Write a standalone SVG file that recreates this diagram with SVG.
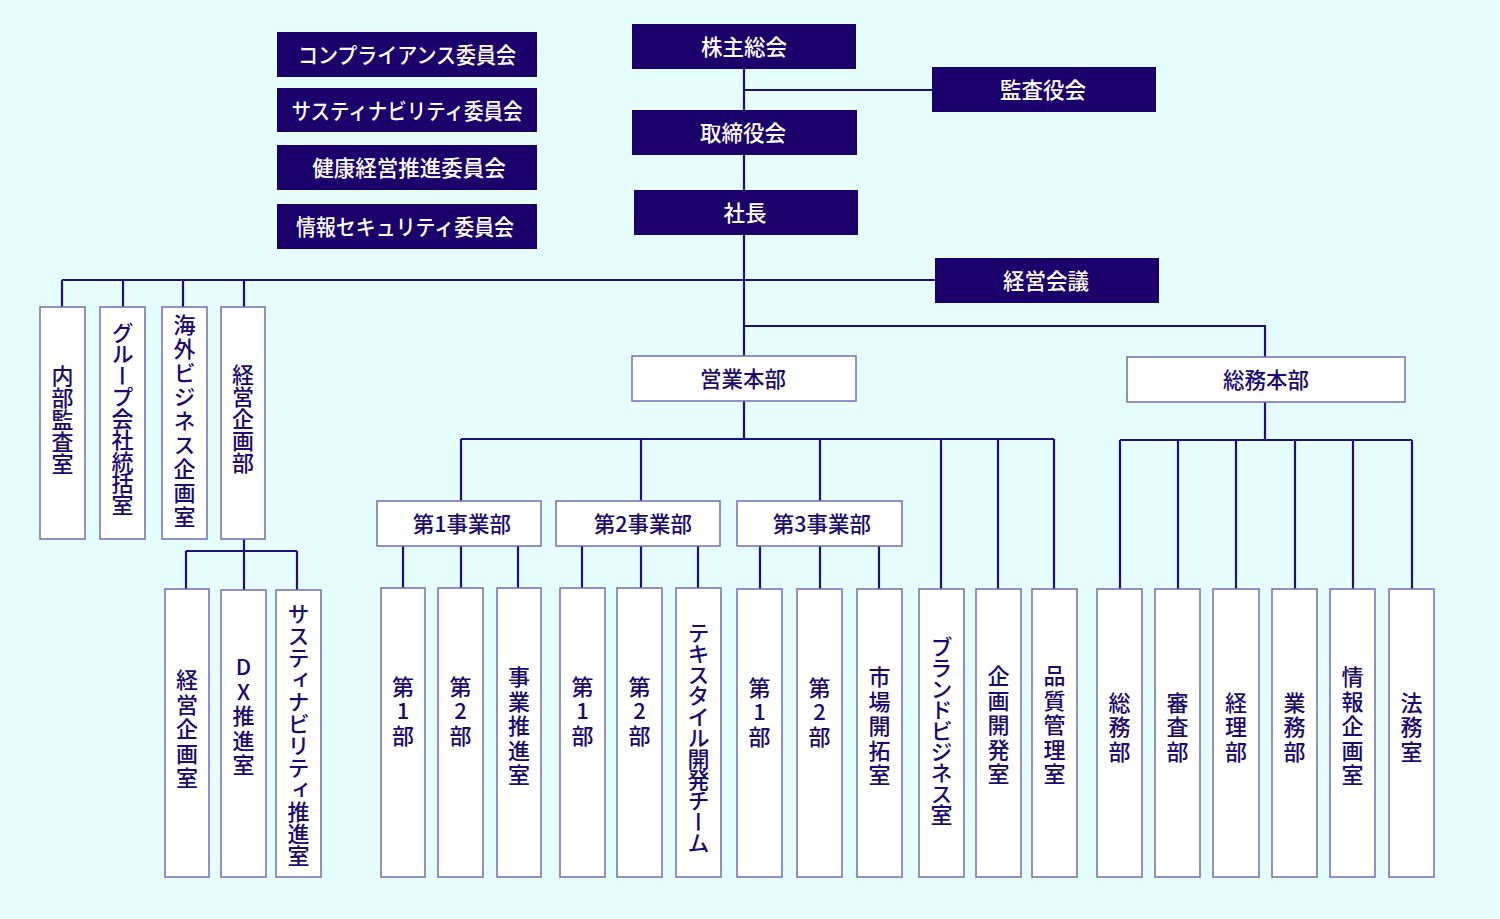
<svg xmlns="http://www.w3.org/2000/svg" width="1500" height="919" viewBox="0 0 1500 919">
<style>
.bg{fill:#e5fdfd}
.dk{fill:#1b006b}
.wb{fill:#ffffff;stroke:#706cb8;stroke-width:1.5}
.ln{fill:none;stroke:#1f0f7a;stroke-width:2.2}
.tw{font-family:"Noto Sans CJK JP","Noto Sans",sans-serif;font-weight:500;font-size:21.5px;fill:#ffffff;text-anchor:middle;dominant-baseline:central}
.th{font-family:"Noto Sans CJK JP","Noto Sans",sans-serif;font-weight:500;font-size:21.5px;fill:#1a0a6e;text-anchor:middle;dominant-baseline:central}
.tv{font-family:"Noto Sans CJK JP","Noto Sans",sans-serif;font-weight:500;font-size:22px;fill:#1a0a6e;text-anchor:middle;writing-mode:vertical-rl;text-orientation:upright}
.s2{letter-spacing:2.5px}
</style>
<rect class="bg" x="0" y="0" width="1500" height="919"/>
<g id="connectors">
<path class="ln" d="M744,69V356M744,90H932M62,280H935M62,280V307M123,280V307M183,280V307M244,280V307"/>
<path class="ln" d="M244,539V590M186,551H297M186,551V589M297,551V590"/>
<path class="ln" d="M744,326H1265V357"/>
<path class="ln" d="M744,401V439M461,439H1054M461,439V501M641,439V501M820,439V501M941,439V589M998,439V589M1054,439V589"/>
<path class="ln" d="M403,546V588M461,546V588M518,546V588M582,546V588M641,546V588M698,546V588M760,546V589M820,546V589M879,546V589"/>
<path class="ln" d="M1265,402V440M1120,440H1412M1120,440V589M1178,440V589M1236,440V589M1295,440V589M1353,440V589M1412,440V589"/>
</g>
<g id="n-kabunushi"><rect class="dk" x="632" y="24" width="224" height="45"/><text class="tw" x="744" y="45.5">株主総会</text></g>
<g id="n-kansayaku"><rect class="dk" x="932" y="67" width="224" height="45"/><text class="tw" x="1043" y="88.5">監査役会</text></g>
<g id="n-torishimariyaku"><rect class="dk" x="632" y="110" width="225" height="45"/><text class="tw" x="743" y="131.5">取締役会</text></g>
<g id="n-shacho"><rect class="dk" x="634" y="190" width="224" height="45"/><text class="tw" x="745" y="211.5">社長</text></g>
<g id="n-keiei-kaigi"><rect class="dk" x="935" y="258" width="224" height="45"/><text class="tw" x="1046" y="279.5">経営会議</text></g>
<g id="n-compliance"><rect class="dk" x="277" y="32" width="260" height="45"/><text class="tw" x="407" y="53.5" textLength="218" lengthAdjust="spacingAndGlyphs">コンプライアンス委員会</text></g>
<g id="n-sustain-iinkai"><rect class="dk" x="277" y="88" width="260" height="44"/><text class="tw" x="407" y="109" textLength="231" lengthAdjust="spacingAndGlyphs">サスティナビリティ委員会</text></g>
<g id="n-kenko"><rect class="dk" x="277" y="145" width="260" height="45"/><text class="tw" x="409" y="166.5">健康経営推進委員会</text></g>
<g id="n-security"><rect class="dk" x="277" y="204" width="260" height="45"/><text class="tw" x="405" y="225.5" textLength="218" lengthAdjust="spacingAndGlyphs">情報セキュリティ委員会</text></g>

<g id="n-naibu"><rect class="wb" x="40" y="307" width="45" height="232"/><text class="tv" x="62.5" y="420">内部監査室</text></g>
<g id="n-group"><rect class="wb" x="100" y="307" width="45" height="232"/><text class="tv" x="122.5" y="418" style="letter-spacing:-0.5px">グループ会社統括室</text></g>
<g id="n-kaigai"><rect class="wb" x="162" y="307" width="45" height="232"/><text class="tv" x="184.5" y="422" style="letter-spacing:2px">海外ビジネス企画室</text></g>
<g id="n-keieikikakubu"><rect class="wb" x="221" y="307" width="44" height="232"/><text class="tv" x="243" y="419">経営企画部</text></g>

<g id="n-keieikikakushitsu"><rect class="wb" x="165" y="589" width="44" height="288"/><text class="tv s2" x="187" y="730">経営企画室</text></g>
<g id="n-dx"><rect class="wb" x="221" y="590" width="45" height="287"/><text class="tv s2" x="243.5" y="717">DX推進室</text></g>
<g id="n-sustain-suishin"><rect class="wb" x="276" y="590" width="45" height="287"/><text class="tv" x="298.5" y="735">サスティナビリティ推進室</text></g>

<g id="n-eigyo"><rect class="wb" x="632" y="356" width="224" height="45"/><text class="th" x="743" y="377.5">営業本部</text></g>
<g id="n-somu-honbu"><rect class="wb" x="1127" y="357" width="278" height="45"/><text class="th" x="1266" y="378.5">総務本部</text></g>

<g id="n-jigyo1"><rect class="wb" x="377" y="501" width="164" height="45"/><text class="th" x="462" y="522.5">第1事業部</text></g>
<g id="n-jigyo2"><rect class="wb" x="556" y="501" width="164" height="45"/><text class="th" x="643" y="522.5">第2事業部</text></g>
<g id="n-jigyo3"><rect class="wb" x="737" y="501" width="165" height="45"/><text class="th" x="822" y="522.5">第3事業部</text></g>

<g id="n-j1-1"><rect class="wb" x="381" y="588" width="44" height="289"/><text class="tv s2" x="403" y="712">第1部</text></g>
<g id="n-j1-2"><rect class="wb" x="438" y="588" width="45" height="289"/><text class="tv s2" x="460.5" y="712">第2部</text></g>
<g id="n-j1-suishin"><rect class="wb" x="497" y="588" width="44" height="289"/><text class="tv s2" x="519" y="727">事業推進室</text></g>
<g id="n-j2-1"><rect class="wb" x="560" y="588" width="45" height="289"/><text class="tv s2" x="582.5" y="712">第1部</text></g>
<g id="n-j2-2"><rect class="wb" x="617" y="588" width="45" height="289"/><text class="tv s2" x="639.5" y="712">第2部</text></g>
<g id="n-textile"><rect class="wb" x="676" y="588" width="45" height="289"/><text class="tv" x="698.5" y="737" style="letter-spacing:-1px">テキスタイル開発チーム</text></g>
<g id="n-j3-1"><rect class="wb" x="737" y="589" width="45" height="288"/><text class="tv s2" x="759.5" y="713">第1部</text></g>
<g id="n-j3-2"><rect class="wb" x="797" y="589" width="45" height="288"/><text class="tv s2" x="819.5" y="713">第2部</text></g>
<g id="n-shijo"><rect class="wb" x="857" y="589" width="45" height="288"/><text class="tv s2" x="879.5" y="727">市場開拓室</text></g>
<g id="n-brand"><rect class="wb" x="919" y="589" width="45" height="288"/><text class="tv" x="941.5" y="730" style="letter-spacing:-1px">ブランドビジネス室</text></g>
<g id="n-kikakukaihatsu"><rect class="wb" x="976" y="589" width="45" height="288"/><text class="tv s2" x="998.5" y="726">企画開発室</text></g>
<g id="n-hinshitsu"><rect class="wb" x="1032" y="589" width="45" height="288"/><text class="tv s2" x="1054.5" y="726">品質管理室</text></g>

<g id="n-somubu"><rect class="wb" x="1097" y="589" width="45" height="288"/><text class="tv s2" x="1119.5" y="728">総務部</text></g>
<g id="n-shinsa"><rect class="wb" x="1155" y="589" width="45" height="288"/><text class="tv s2" x="1177.5" y="728">審査部</text></g>
<g id="n-keiri"><rect class="wb" x="1213" y="589" width="46" height="288"/><text class="tv s2" x="1236" y="728">経理部</text></g>
<g id="n-gyomu"><rect class="wb" x="1272" y="589" width="45" height="288"/><text class="tv s2" x="1294.5" y="728">業務部</text></g>
<g id="n-johokikaku"><rect class="wb" x="1330" y="589" width="45" height="288"/><text class="tv s2" x="1352.5" y="727">情報企画室</text></g>
<g id="n-homu"><rect class="wb" x="1389" y="589" width="45" height="288"/><text class="tv s2" x="1411.5" y="728">法務室</text></g>
</svg>
